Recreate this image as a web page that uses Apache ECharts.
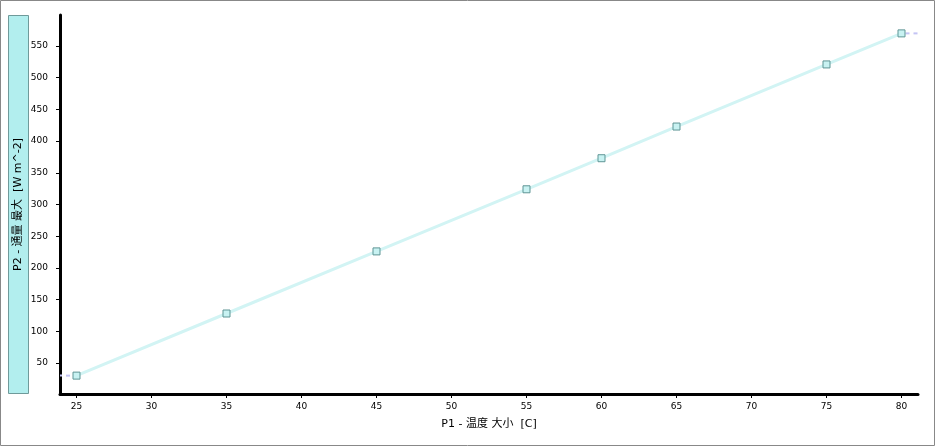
<!DOCTYPE html>
<html>
<head>
<meta charset="UTF-8">
<title>P1 - P2</title>
<script src="https://cdn.jsdelivr.net/npm/echarts@6/dist/echarts.min.js"></script>
<style>
html, body {
    margin: 0;
    padding: 0;
    background: #fff;
}
#main {
    width: 935px;
    height: 446px;
}
</style>
</head>
<body>
<div id="main"></div>
<script>
// 温度 (x) 和 通量 (y)
var temps = [25, 35, 45, 55, 60, 65, 75, 80];
var fluxMax = [30, 128, 226, 324, 373, 423, 521, 570];
var xTicks = [25, 30, 35, 40, 45, 50, 55, 60, 65, 70, 75, 80];
var yTicks = [50, 100, 150, 200, 250, 300, 350, 400, 450, 500, 550];
var xRange = [23.9, 81.1];
var yRange = [1, 599];

var pts = temps.map(function (t, i) { return [t, fluxMax[i]]; });
var n = temps.length;
// dashed stubs out to the axis edges
var leftStub = [[xRange[0], fluxMax[0]], [temps[0], fluxMax[0]]];
var rightStub = [[temps[n - 1], fluxMax[n - 1]], [xRange[1], fluxMax[n - 1]]];

var chart = echarts.init(document.getElementById('main'));
var font = 'DejaVu Sans, "Noto Sans CJK SC", sans-serif';

var option = {
    animation: false,
    grid: { left: 60, right: 17, top: 15, bottom: 52, containLabel: false },
    graphic: [
        { type: 'rect', shape: { x: 0.5, y: 0.5, width: 934, height: 445 },
          style: { fill: 'none', stroke: '#888', lineWidth: 1 }, z: -1 },
        { type: 'rect', shape: { x: 8.5, y: 15.5, width: 20, height: 378 },
          style: { fill: '#b2eeee', stroke: '#6f9a9a', lineWidth: 1 }, z: -1 }
    ],
    xAxis: {
        type: 'value',
        min: xRange[0], max: xRange[1],
        name: 'P1 - 温度 大小  [C]',
        nameLocation: 'middle',
        nameGap: 25,
        nameMoveOverlap: false,
        nameTextStyle: { color: '#000', fontSize: 11, fontFamily: font },
        splitLine: { show: false },
        axisLine: { show: true, lineStyle: { color: '#000', width: 3 } },
        axisTick: { show: true, length: 4, lineStyle: { color: '#000' },
            customValues: xTicks },
        axisLabel: { color: '#000', fontSize: 9, fontFamily: font, margin: 8,
            customValues: xTicks }
    },
    yAxis: {
        type: 'value',
        min: yRange[0], max: yRange[1],
        name: 'P2 - 通量 最大  [W m^-2]',
        nameLocation: 'middle',
        nameGap: 36,
        nameMoveOverlap: false,
        nameTextStyle: { color: '#000', fontSize: 11, fontFamily: font },
        splitLine: { show: false },
        axisLine: { show: true, lineStyle: { color: '#000', width: 3 } },
        axisTick: { show: true, length: 4, lineStyle: { color: '#000' },
            customValues: yTicks },
        axisLabel: { color: '#000', fontSize: 9, fontFamily: font, margin: 12,
            customValues: yTicks }
    },
    series: [
        {
            type: 'line',
            data: leftStub,
            symbol: 'none',
            lineStyle: { color: '#c4c4f4', width: 2, type: [4, 4], dashOffset: 2 },
            z: 1
        },
        {
            type: 'line',
            data: rightStub,
            symbol: 'none',
            lineStyle: { color: '#c4c4f4', width: 2, type: [4, 4], dashOffset: 4 },
            z: 1
        },
        {
            type: 'line',
            data: pts,
            symbol: 'rect',
            symbolSize: 7,
            itemStyle: { color: '#c8f2f2', borderColor: '#5f9595', borderWidth: 1 },
            lineStyle: { color: '#d2f4f4', width: 3 },
            z: 2
        }
    ]
};
chart.setOption(option);
</script>
</body>
</html>
